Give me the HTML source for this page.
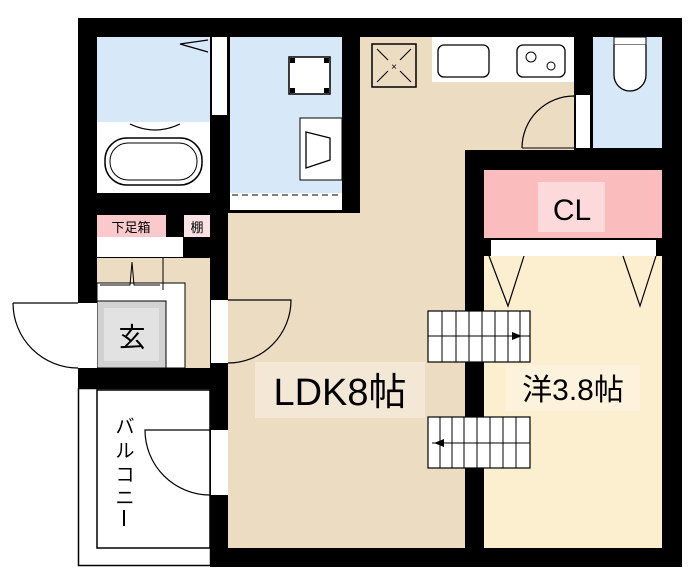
<!DOCTYPE html>
<html><head><meta charset="utf-8"><style>
html,body{margin:0;padding:0;background:#fff;width:700px;height:585px;overflow:hidden}
svg{display:block}
text{font-family:"Liberation Sans","Noto Sans CJK JP",sans-serif}
</style></head><body>
<svg width="700" height="585" viewBox="0 0 700 585" xmlns="http://www.w3.org/2000/svg">
<rect x="78" y="18" width="604" height="549" fill="#000"/>
<rect x="78" y="388" width="132" height="179" fill="#fff"/>
<rect x="78.5" y="388.5" width="132" height="177" fill="none" stroke="#000" stroke-width="1.5"/>
<rect x="97" y="390" width="113" height="158" fill="#fff" stroke="#000" stroke-width="1.5"/>
<rect x="228" y="213" width="237" height="335" fill="#ecdcc2"/>
<rect x="360" y="37" width="214" height="113" fill="#ecdcc2"/>
<rect x="360" y="150" width="105" height="70" fill="#ecdcc2"/>
<rect x="97" y="37" width="113" height="85" fill="#d7e8f8"/>
<rect x="97" y="122" width="113" height="71" fill="#fff"/>
<path d="M130 124 Q155 136 180 124" fill="none" stroke="#000" stroke-width="1.2"/>
<rect x="105" y="138" width="97" height="47" rx="22" fill="#fff" stroke="#000" stroke-width="1.5"/>
<rect x="110" y="143" width="87" height="37" rx="18" fill="none" stroke="#000" stroke-width="1"/>
<path d="M208 40 L180 44 L208 52" fill="none" stroke="#000" stroke-width="1.2"/>
<rect x="212" y="37" width="15" height="78" fill="#fff"/>
<rect x="230" y="37" width="112" height="156" fill="#d7e8f8"/>
<rect x="230" y="193" width="112" height="17" fill="#fff"/>
<line x1="232" y1="195" x2="342" y2="195" stroke="#000" stroke-width="1" stroke-dasharray="6,4"/>
<rect x="289" y="57" width="41" height="37" fill="#fff" stroke="#000" stroke-width="1.5"/>
<rect x="290" y="58" width="5" height="5"/><rect x="324" y="58" width="5" height="5"/><rect x="290" y="88" width="5" height="5"/><rect x="324" y="88" width="5" height="5"/>
<rect x="300" y="118" width="42" height="62" fill="#fff" stroke="#000" stroke-width="1"/>
<path d="M306 132 L330 138 L330 160 L306 168 Z" fill="#fff" stroke="#000" stroke-width="1.3"/>
<rect x="97" y="215" width="69" height="22" fill="#f9c9cc"/>
<text x="131" y="232" font-size="13" text-anchor="middle">下足箱</text>
<rect x="184" y="215" width="26" height="22" fill="#fbe3e4"/>
<text x="197" y="232" font-size="13" text-anchor="middle">棚</text>
<rect x="97" y="237" width="86" height="20" fill="#fff"/>
<rect x="97" y="258" width="113" height="110" fill="#ecdcc2"/>
<rect x="97" y="283" width="88" height="85" fill="#fff" stroke="#000" stroke-width="1"/>
<path d="M100 285 L130 285 L132 262 L134 285 L160 285" fill="none" stroke="#000" stroke-width="1"/>
<line x1="163" y1="258" x2="163" y2="290" stroke="#000"/>
<rect x="97" y="301" width="69" height="67" fill="#d2d2d2" stroke="#000" stroke-width="1"/>
<rect x="104" y="308" width="55" height="53" fill="#e2e2e2"/>
<text x="132" y="347" font-size="27" text-anchor="middle">玄</text>
<rect x="78" y="303" width="19" height="65" fill="#fff"/>
<path d="M13 303 L78 303 M13 303 A65 65 0 0 0 78 368" fill="none" stroke="#000" stroke-width="1.2"/>
<rect x="211" y="300" width="17" height="63" fill="#fff"/>
<path d="M228 300 L291 300 A63 63 0 0 1 228 363" fill="none" stroke="#000" stroke-width="1.2"/>
<rect x="211" y="430" width="17" height="65" fill="#fff"/>
<path d="M210 430 L145 430 A65 65 0 0 0 210 495" fill="none" stroke="#000" stroke-width="1.2"/>
<g font-size="19" text-anchor="middle">
<text x="125" y="433">バ</text>
<text x="125" y="457">ル</text>
<text x="125" y="481">コ</text>
<text x="125" y="504">ニ</text>
</g>
<line x1="124" y1="510" x2="124" y2="526" stroke="#000" stroke-width="2"/>
<rect x="372" y="44" width="44" height="43" fill="#ecdcc2" stroke="#000" stroke-width="1.5"/>
<path d="M377 49 L388 60 M411 49 L400 60 M377 82 L388 71 M411 82 L400 71" stroke="#000" stroke-width="1"/>
<text x="394" y="70" font-size="10" text-anchor="middle">×</text>
<rect x="432" y="37" width="142" height="45" fill="#fff"/>
<rect x="438" y="45" width="51" height="32" rx="6" fill="#fff" stroke="#000" stroke-width="1.3"/>
<rect x="517" y="45" width="48" height="32" rx="6" fill="#fff" stroke="#000" stroke-width="1.3"/>
<circle cx="531" cy="57" r="5" fill="none" stroke="#000"/><circle cx="551" cy="66" r="4" fill="none" stroke="#000"/>
<path d="M522 148 A52 52 0 0 1 574 96" fill="none" stroke="#000" stroke-width="1.2"/>
<line x1="522" y1="148" x2="574" y2="148" stroke="#000"/>
<rect x="576" y="95" width="14" height="53" fill="#fff"/>
<rect x="593" y="37" width="69" height="111" fill="#d7e8f8"/>
<rect x="614" y="37" width="32" height="8" fill="#fff" stroke="#000" stroke-width="1"/>
<path d="M614 45 L614 75 A16 16 0 0 0 646 75 L646 45" fill="#fff" stroke="#000" stroke-width="1.3"/>
<rect x="484" y="170" width="178" height="68" fill="#fbbcbe"/>
<rect x="538" y="182" width="67" height="50" fill="#fcd9da"/>
<text x="572" y="220" font-size="30" text-anchor="middle">CL</text>
<rect x="491" y="240" width="165" height="16" fill="#fff"/>
<rect x="484" y="256" width="178" height="292" fill="#fcefd0"/>
<path d="M489 256 L508 306 L524 256 M623 256 L640 306 L656 256" fill="none" stroke="#000" stroke-width="1.2"/>
<g stroke="#000" stroke-width="1.2" fill="#fff">
<rect x="428" y="311" width="102" height="51"/>
<rect x="428" y="417" width="102" height="51"/>
</g>
<g stroke="#000" stroke-width="1">
<path d="M442 311V362M456 311V362M469 311V362M482 311V362M495 311V362M508 311V362M520 311V362M428 336H530"/>
<path d="M440 417V468M452 417V468M464 417V468M477 417V468M490 417V468M503 417V468M516 417V468M432 443H530"/>
</g>
<path d="M512 332 L522 336 L512 340Z"/><path d="M444 439 L434 443 L444 447Z"/>
<rect x="255" y="362" width="170" height="56" fill="#f3e8d6"/>
<text x="340" y="405" font-size="38" text-anchor="middle">LDK8帖</text>
<rect x="505" y="365" width="135" height="46" fill="#fdf3dc"/>
<text x="573" y="400" font-size="30" text-anchor="middle">洋3.8帖</text>
</svg>
</body></html>
